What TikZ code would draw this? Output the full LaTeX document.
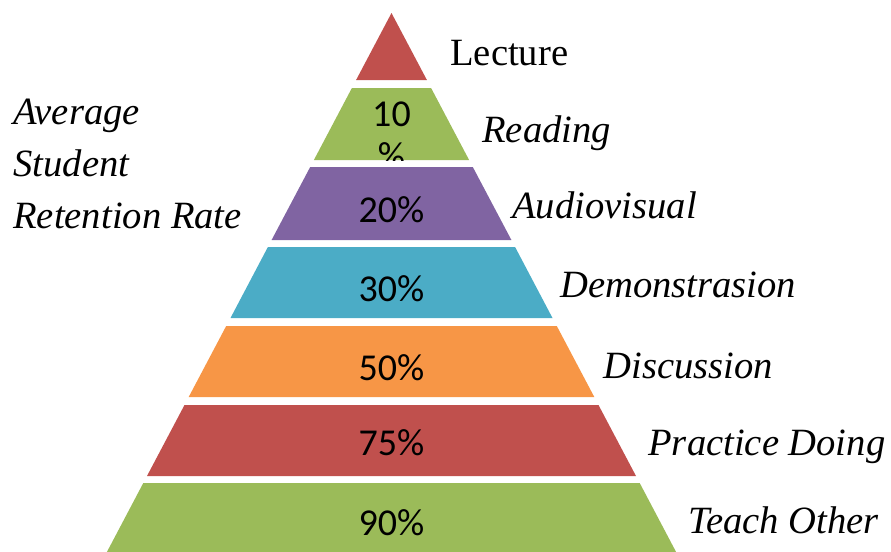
\documentclass[tikz,border=0pt]{standalone}
\usepackage{fontspec}
\setmainfont{Liberation Serif}
\newfontfamily\calibfont{Carlito}
\usetikzlibrary{positioning}
\definecolor{lecred}{HTML}{C0504D}
\definecolor{lecgreen}{HTML}{9BBB59}
\definecolor{lecpurple}{HTML}{8064A2}
\definecolor{lecteal}{HTML}{4BACC6}
\definecolor{lecorange}{HTML}{F79646}
\tikzset{
	%Define style for the percentages
	pct/.style={font=\calibfont\fontsize{19}{21}\selectfont, inner sep=0pt},
	%Define style for the level names
	lvl/.style={font=\itshape\fontsize{19.3}{24}\selectfont, anchor=base west, inner sep=0pt},
	%Define style for the side title
	sidetitle/.style={font=\itshape\fontsize{19.3}{25.8}\selectfont, align=left, anchor=north west, inner sep=0pt}
}
\begin{document}
\begin{tikzpicture}[x=0.5pt,y=-0.5pt]
	\useasboundingbox (0,0) rectangle (891,552);
	% bands of the pyramid
	\fill[lecred]    (391.5,13) -- (426.9,80) -- (356.1,80) -- cycle;
	\fill[lecgreen]  (351.9,88) -- (431.1,88) -- (469.1,160) -- (313.9,160) -- cycle;
	\fill[lecpurple] (310.2,167) -- (472.8,167) -- (511.4,240) -- (271.6,240) -- cycle;
	\fill[lecteal]   (267.9,247) -- (515.1,247) -- (552.5,318) -- (230.5,318) -- cycle;
	\fill[lecorange] (226.2,326) -- (556.8,326) -- (594.3,397) -- (188.7,397) -- cycle;
	\fill[lecred]    (184.5,405) -- (598.5,405) -- (636.0,476) -- (147.0,476) -- cycle;
	\fill[lecgreen]  (143.3,483) -- (639.7,483) -- (676.1,552) -- (106.9,552) -- cycle;
	% percentages
	\begin{scope}
		\clip (300,88) rectangle (480,160);
		\node[pct, text width=24pt, align=center, anchor=north] (p10) at (391.5,101) {10 \%};
	\end{scope}
	\node[pct] (p20) at (391.5,210) {20\%};
	\node[pct] (p30) at (391.5,289) {30\%};
	\node[pct] (p50) at (391.5,368) {50\%};
	\node[pct] (p75) at (391.5,443) {75\%};
	\node[pct] (p90) at (391.5,523) {90\%};
	% level names
	\node[lvl, font=\fontsize{19.3}{24}\selectfont] (lecture) at (450,65) {Lecture};
	\node[lvl] (reading) at (482,142) {Reading};
	\node[lvl] (audio) at (512,218) {Audiovisual};
	\node[lvl] (demo) at (560,297) {Demonstrasion};
	\node[lvl] (disc) at (603,378) {Discussion};
	\node[lvl] (practice) at (648,455) {Practice Doing};
	\node[lvl] (teach) at (688,533) {Teach Other};
	% side title
	\node[sidetitle] (rate) at (13,99) {Average\\Student\\Retention Rate};
\end{tikzpicture}
\end{document}
